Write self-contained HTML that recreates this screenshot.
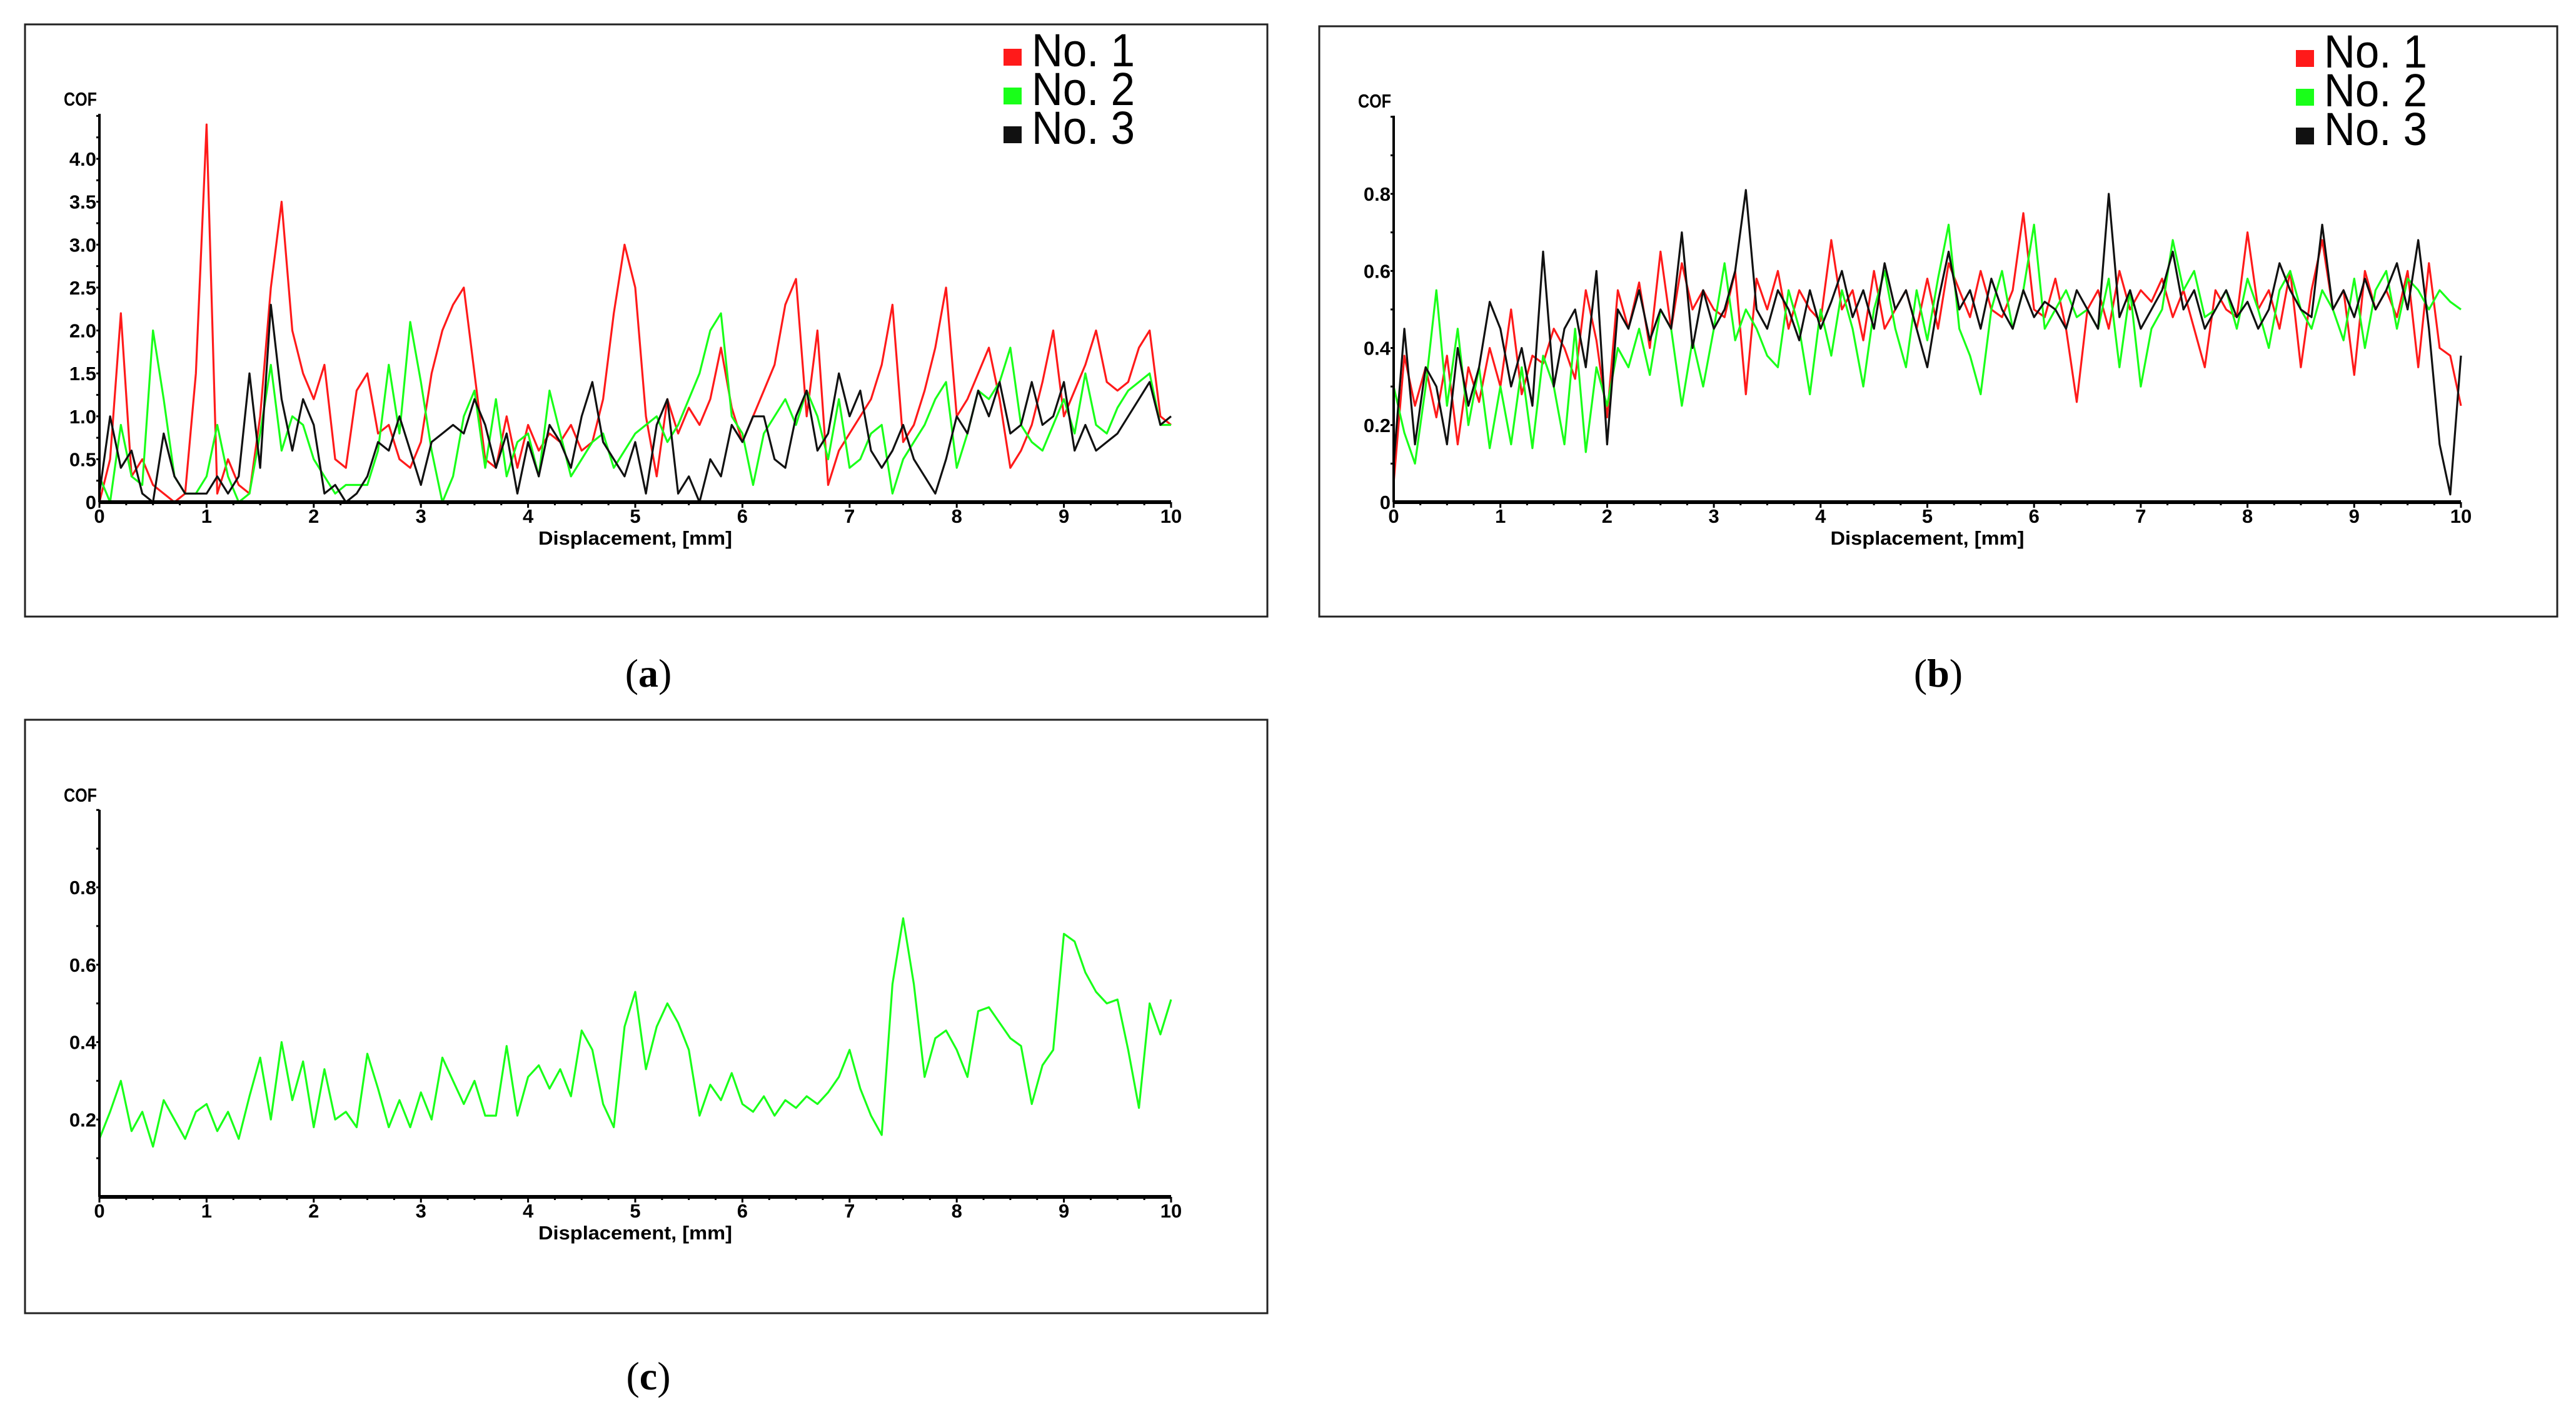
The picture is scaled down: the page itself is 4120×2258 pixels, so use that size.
<!DOCTYPE html>
<html><head><meta charset="utf-8"><style>
html,body{margin:0;padding:0;background:#fff}
svg{display:block}
.tk{font-family:"Liberation Sans Narrow","Liberation Sans",sans-serif;font-weight:bold;font-size:31px;fill:#000}
.lg{font-family:"Liberation Sans Narrow","Liberation Sans",sans-serif;font-size:74px;fill:#000}
.cap{font-family:"Liberation Serif",serif;font-size:64px;fill:#000}
</style></head><body>
<svg id="fig" width="4120" height="2258" viewBox="0 0 4120 2258" xmlns="http://www.w3.org/2000/svg">
<rect x="0" y="0" width="4120" height="2258" fill="#fff"/>
</svg>
<script>
// ---- data (step 0.1 mm, 0..10) ----
const xTicks = [0,1,2,3,4,5,6,7,8,9,10];
const aYTicks = [0,0.5,1.0,1.5,2.0,2.5,3.0,3.5,4.0];
const aYLabels = ["0","0.5","1.0","1.5","2.0","2.5","3.0","3.5","4.0"];
const bYTicks = [0,0.2,0.4,0.6,0.8];
const bYLabels = ["0","0.2","0.4","0.6","0.8"];
const cYTicks = [0.2,0.4,0.6,0.8];
const cYLabels = ["0.2","0.4","0.6","0.8"];
const seriesNames = ["No. 1","No. 2","No. 3"];

const aNo1 = [0,0.5,2.2,0.3,0.5,0.2,0.1,0,0.1,1.5,4.4,0.1,0.5,0.2,0.1,1.0,2.5,3.5,2.0,1.5,1.2,1.6,0.5,0.4,1.3,1.5,0.8,0.9,0.5,0.4,0.7,1.5,2.0,2.3,2.5,1.5,0.5,0.4,1.0,0.4,0.9,0.6,0.8,0.7,0.9,0.6,0.7,1.2,2.2,3.0,2.5,1.0,0.3,1.2,0.8,1.1,0.9,1.2,1.8,1.1,0.7,1.0,1.3,1.6,2.3,2.6,1.0,2.0,0.2,0.6,0.8,1.0,1.2,1.6,2.3,0.7,0.9,1.3,1.8,2.5,1.0,1.2,1.5,1.8,1.2,0.4,0.6,0.9,1.4,2.0,1.0,1.3,1.6,2.0,1.4,1.3,1.4,1.8,2.0,1.0,0.9];
const aNo2 = [0.3,0,0.9,0.3,0.2,2.0,1.2,0.3,0.1,0.1,0.3,0.9,0.3,0,0.1,0.8,1.6,0.6,1.0,0.9,0.5,0.3,0.1,0.2,0.2,0.2,0.6,1.6,0.8,2.1,1.4,0.6,0,0.3,1.0,1.3,0.4,1.2,0.3,0.7,0.8,0.3,1.3,0.8,0.3,0.5,0.7,0.8,0.4,0.6,0.8,0.9,1.0,0.7,0.9,1.2,1.5,2.0,2.2,1.0,0.8,0.2,0.8,1.0,1.2,0.9,1.3,1.0,0.5,1.2,0.4,0.5,0.8,0.9,0.1,0.5,0.7,0.9,1.2,1.4,0.4,0.8,1.3,1.2,1.4,1.8,0.9,0.7,0.6,0.9,1.2,0.8,1.5,0.9,0.8,1.1,1.3,1.4,1.5,0.9,0.9];
const aNo3 = [0.1,1.0,0.4,0.6,0.1,0,0.8,0.3,0.1,0.1,0.1,0.3,0.1,0.3,1.5,0.4,2.3,1.2,0.6,1.2,0.9,0.1,0.2,0,0.1,0.3,0.7,0.6,1.0,0.6,0.2,0.7,0.8,0.9,0.8,1.2,0.9,0.4,0.8,0.1,0.7,0.3,0.9,0.7,0.4,1.0,1.4,0.7,0.5,0.3,0.7,0.1,0.9,1.2,0.1,0.3,0,0.5,0.3,0.9,0.7,1.0,1.0,0.5,0.4,1.0,1.3,0.6,0.8,1.5,1.0,1.3,0.6,0.4,0.6,0.9,0.5,0.3,0.1,0.5,1.0,0.8,1.3,1.0,1.4,0.8,0.9,1.4,0.9,1.0,1.4,0.6,0.9,0.6,0.7,0.8,1.0,1.2,1.4,0.9,1.0];

const bNo1 = [0.05,0.38,0.25,0.35,0.22,0.38,0.15,0.35,0.26,0.4,0.3,0.5,0.28,0.38,0.36,0.45,0.4,0.32,0.55,0.42,0.22,0.55,0.45,0.57,0.4,0.65,0.45,0.62,0.5,0.55,0.5,0.48,0.6,0.28,0.58,0.5,0.6,0.45,0.55,0.5,0.47,0.68,0.5,0.55,0.42,0.6,0.45,0.5,0.55,0.45,0.58,0.45,0.62,0.55,0.48,0.6,0.5,0.48,0.55,0.75,0.5,0.48,0.58,0.45,0.26,0.5,0.55,0.45,0.6,0.5,0.55,0.52,0.58,0.48,0.55,0.45,0.35,0.55,0.5,0.48,0.7,0.5,0.55,0.45,0.6,0.35,0.55,0.68,0.5,0.55,0.33,0.6,0.5,0.55,0.48,0.6,0.35,0.62,0.4,0.38,0.25];
const bNo2 = [0.3,0.18,0.1,0.3,0.55,0.25,0.45,0.2,0.35,0.14,0.3,0.15,0.35,0.14,0.38,0.3,0.15,0.45,0.13,0.35,0.25,0.4,0.35,0.45,0.33,0.5,0.45,0.25,0.42,0.3,0.45,0.62,0.42,0.5,0.45,0.38,0.35,0.55,0.45,0.28,0.5,0.38,0.55,0.45,0.3,0.5,0.6,0.45,0.35,0.55,0.42,0.58,0.72,0.45,0.38,0.28,0.5,0.6,0.45,0.55,0.72,0.45,0.5,0.55,0.48,0.5,0.45,0.58,0.35,0.55,0.3,0.45,0.5,0.68,0.55,0.6,0.48,0.5,0.55,0.45,0.58,0.5,0.4,0.55,0.6,0.5,0.45,0.55,0.5,0.42,0.58,0.4,0.55,0.6,0.45,0.58,0.55,0.5,0.55,0.52,0.5];
const bNo3 = [0.1,0.45,0.15,0.35,0.3,0.15,0.4,0.25,0.35,0.52,0.45,0.3,0.4,0.25,0.65,0.3,0.45,0.5,0.35,0.6,0.15,0.5,0.45,0.55,0.42,0.5,0.45,0.7,0.4,0.55,0.45,0.5,0.6,0.81,0.5,0.45,0.55,0.5,0.42,0.55,0.45,0.52,0.6,0.48,0.55,0.45,0.62,0.5,0.55,0.45,0.35,0.52,0.65,0.5,0.55,0.45,0.58,0.5,0.45,0.55,0.48,0.52,0.5,0.45,0.55,0.5,0.45,0.8,0.48,0.55,0.45,0.5,0.55,0.65,0.5,0.55,0.45,0.5,0.55,0.48,0.52,0.45,0.5,0.62,0.55,0.5,0.48,0.72,0.5,0.55,0.48,0.58,0.5,0.55,0.62,0.5,0.68,0.45,0.15,0.02,0.38];

const cNo2 = [0.15,0.22,0.3,0.17,0.22,0.13,0.25,0.2,0.15,0.22,0.24,0.17,0.22,0.15,0.26,0.36,0.2,0.4,0.25,0.35,0.18,0.33,0.2,0.22,0.18,0.37,0.28,0.18,0.25,0.18,0.27,0.2,0.36,0.3,0.24,0.3,0.21,0.21,0.39,0.21,0.31,0.34,0.28,0.33,0.26,0.43,0.38,0.24,0.18,0.44,0.53,0.33,0.44,0.5,0.45,0.38,0.21,0.29,0.25,0.32,0.24,0.22,0.26,0.21,0.25,0.23,0.26,0.24,0.27,0.31,0.38,0.28,0.21,0.16,0.55,0.72,0.55,0.31,0.41,0.43,0.38,0.31,0.48,0.49,0.45,0.41,0.39,0.24,0.34,0.38,0.68,0.66,0.58,0.53,0.5,0.51,0.38,0.23,0.5,0.42,0.51];

const COLORS = ["#ff1a1a","#19ff19","#111111"];
const NS = "http://www.w3.org/2000/svg";
const fig = document.getElementById('fig');
function mk(tag, attrs, parent){ const e=document.createElementNS(NS,tag); for(const k in attrs) e.setAttribute(k,attrs[k]); (parent||fig).appendChild(e); return e; }

function panel(cfg){
  const g = mk('g',{});
  
  
  const frame = mk('rect',{x:cfg.box[0],y:cfg.box[1],width:cfg.box[2]-cfg.box[0],height:cfg.box[3]-cfg.box[1],fill:'none',stroke:'#222','stroke-width':3},g);
  
  
  const X = v => cfg.x0 + (cfg.x1-cfg.x0)*v/10;
  const Y = v => cfg.y0 - (cfg.y0-cfg.yRef)*v/cfg.yRefVal;
  cfg.series.forEach((s,i)=>{
    let d='';
    s.vals.forEach((v,j)=>{ d += (j?'L':'M') + X(j*0.1).toFixed(1)+','+Y(v).toFixed(1); });
    const p = mk('path',{d:d,fill:'none',stroke:s.color,'stroke-width':3.2,'stroke-linejoin':'round'},g);
    
    
  });
  const ya = mk('line',{x1:cfg.x0,y1:cfg.y0,x2:cfg.x0,y2:cfg.yTop,stroke:'#000','stroke-width':4},g);
  
  
  const xa = mk('line',{x1:cfg.x0,y1:cfg.y0,x2:cfg.x1,y2:cfg.y0,stroke:'#000','stroke-width':6},g);
  
  
  for(let m=0;m<=40;m++){ mk('line',{x1:X(m*0.25),y1:cfg.y0,x2:X(m*0.25),y2:cfg.y0+(m%4?5:9),stroke:'#000','stroke-width':3},g); }
  for(let v=cfg.minorStep; Y(v)>cfg.yTop; v+=cfg.minorStep){ mk('line',{x1:cfg.x0,y1:Y(v),x2:cfg.x0-5,y2:Y(v),stroke:'#000','stroke-width':3},g); }
  xTicks.forEach(t=>{
    const tx = mk('text',{x:X(t),y:cfg.y0+33,'text-anchor':'middle',class:'tk'},g);
    tx.textContent = t;
    
    
  });
  cfg.yTicks.forEach((t,i)=>{
    const ty = mk('text',{x:cfg.x0-5,y:Y(t)+11,'text-anchor':'end',class:'tk'},g);
    ty.textContent = cfg.yLabels[i];
    
    
  });
  const yt = mk('text',{x:cfg.x0-57,y:cfg.yTop-13,class:'tk',textLength:53,lengthAdjust:'spacingAndGlyphs'},g);
  yt.textContent = 'COF';
  
  
  const xt = mk('text',{x:(cfg.x0+cfg.x1)/2-155,y:cfg.y0+68,class:'tk',textLength:310,lengthAdjust:'spacingAndGlyphs'},g);
  xt.textContent = 'Displacement, [mm]';
  
  
  if(cfg.legend){
    cfg.series.forEach((s,i)=>{
      const by = cfg.legend[1] + i*62;
      const sq = mk('rect',{x:cfg.legend[0],y:by-28,width:29,height:27,fill:s.color},g);
      
      
      const lt = mk('text',{x:cfg.legend[0]+45,y:by,class:'lg',textLength:165,lengthAdjust:'spacingAndGlyphs'},g);
      lt.textContent = s.label;
      
      
    });
  }
  const cap = mk('text',{x:cfg.cap[0],y:cfg.cap[1],'text-anchor':'middle',class:'cap'},g);
  cap.innerHTML = '(<tspan font-weight="bold">'+cfg.capLetter+'</tspan>)';
  
  
}

panel({name:'panel-a',box:[40,39,2027,986],x0:159,x1:1873,y0:803,yRef:254,yRefVal:4.0,yTop:182,minorStep:0.25,
  yTicks:aYTicks,yLabels:aYLabels,legend:[1605,106],cap:[1037,1098],capLetter:'a',
  series:[{vals:aNo1,color:COLORS[0],label:seriesNames[0]},{vals:aNo2,color:COLORS[1],label:seriesNames[1]},{vals:aNo3,color:COLORS[2],label:seriesNames[2]}]});
panel({name:'panel-b',box:[2110,42,4090,986],x0:2229,x1:3936,y0:803,yRef:310,yRefVal:0.8,yTop:185,minorStep:0.1,
  yTicks:bYTicks,yLabels:bYLabels,legend:[3672,108],cap:[3100,1098],capLetter:'b',
  series:[{vals:bNo1,color:COLORS[0],label:seriesNames[0]},{vals:bNo2,color:COLORS[1],label:seriesNames[1]},{vals:bNo3,color:COLORS[2],label:seriesNames[2]}]});
panel({name:'panel-c',box:[40,1151,2027,2100],x0:159,x1:1873,y0:1914,yRef:1419,yRefVal:0.8,yTop:1295,minorStep:0.1,
  yTicks:cYTicks,yLabels:cYLabels,legend:null,cap:[1037,2222],capLetter:'c',
  series:[{vals:cNo2,color:COLORS[1],label:seriesNames[1]}]});
</script>
</body></html>
